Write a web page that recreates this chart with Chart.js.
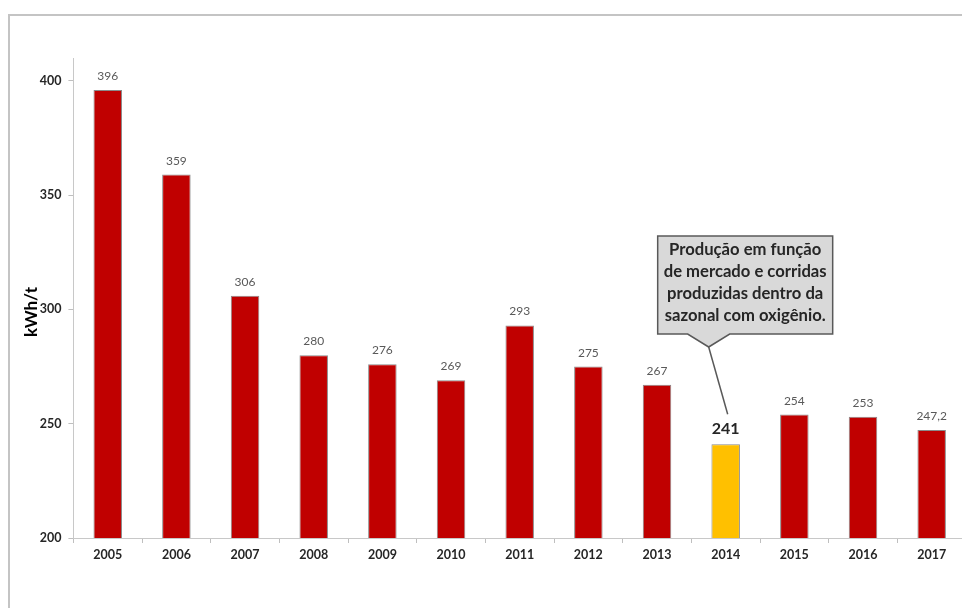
<!DOCTYPE html>
<html lang="pt">
<head>
<meta charset="UTF-8">
<title>Consumo específico de energia - kWh/t</title>
<script src="https://cdn.jsdelivr.net/npm/chart.js"></script>
<style>
  html, body { margin: 0; padding: 0; background: #fff; overflow: hidden; width: 962px; height: 608px; }
  /* moldura cinza (só topo e esquerda aparecem no recorte) */
  .moldura { position: absolute; left: 8px; top: 14px; width: 970px; height: 610px;
             border-top: 2px solid #c4c4c4; border-left: 2px solid #c4c4c4; }
  /* um pouco mais largo que a janela: o eixo x continua além da borda direita */
  .grafico { position: absolute; left: 0; top: 0; width: 966px; height: 608px; }
</style>
</head>
<body>
<div class="moldura"></div>
<div class="grafico"><canvas id="consumoChart"></canvas></div>

<script>
// dados
const anos = ['2005', '2006', '2007', '2008', '2009', '2010', '2011', '2012', '2013', '2014', '2015', '2016', '2017'];
const consumo = [396, 359, 306, 280, 276, 269, 293, 275, 267, 241, 254, 253, 247.2];
const yTicks = [200, 250, 300, 350, 400];
const anoDestaque = '2014';
const notaLinhas = ['Produção em função', 'de mercado e corridas', 'produzidas dentro da', 'sazonal com oxigênio.'];

const FONTE = 'Lato, "Open Sans", sans-serif';
const VERMELHO = '#c00000';
const AMARELO = '#ffc000';

function formata(v) {
    return String(v).replace('.', ',');
}

// rótulos de valor em cima das barras
const rotulosValores = {
    id: 'rotulosValores',
    afterDatasetsDraw(chart) {
        const ctx = chart.ctx;
        const meta = chart.getDatasetMeta(0);
        meta.data.forEach((bar, i) => {
            const destaque = anos[i] === anoDestaque;
            ctx.save();
            ctx.font = destaque ? `bold 16px ${FONTE}` : `12px ${FONTE}`;
            ctx.fillStyle = destaque ? '#262626' : '#595959';
            ctx.textAlign = 'center';
            ctx.textBaseline = 'alphabetic';
            ctx.fillText(formata(consumo[i]), bar.x, bar.y - 10);
            ctx.restore();
        });
    }
};

// título do eixo y
const tituloEixoY = {
    id: 'tituloEixoY',
    afterDraw(chart) {
        const ctx = chart.ctx;
        ctx.save();
        ctx.translate(32, 312);
        ctx.rotate(-Math.PI / 2);
        ctx.font = `bold 17px ${FONTE}`;
        ctx.fillStyle = '#000';
        ctx.textAlign = 'center';
        ctx.textBaseline = 'middle';
        ctx.fillText('kWh/t', 0, 0);
        ctx.restore();
    }
};

// balão explicativo apontando para 2014
const balao = {
    id: 'balao',
    afterDraw(chart) {
        const ctx = chart.ctx;
        const idx = anos.indexOf(anoDestaque);
        const bx = chart.scales.x.getPixelForValue(idx);
        const by = chart.scales.y.getPixelForValue(consumo[idx]);

        const esq = bx - 68, dir = bx + 107, topo = 236, base = 334;
        const ponta = { x: bx - 17, y: 347 };

        ctx.save();
        ctx.beginPath();
        ctx.moveTo(esq, topo);
        ctx.lineTo(dir, topo);
        ctx.lineTo(dir, base);
        ctx.lineTo(bx + 4, base);
        ctx.lineTo(ponta.x, ponta.y);
        ctx.lineTo(bx - 38, base);
        ctx.lineTo(esq, base);
        ctx.closePath();
        ctx.fillStyle = '#d9d9d9';
        ctx.fill();
        ctx.lineWidth = 1.5;
        ctx.strokeStyle = '#595959';
        ctx.stroke();

        // linha até o rótulo
        ctx.beginPath();
        ctx.moveTo(ponta.x, ponta.y);
        ctx.lineTo(bx + 2, by - 30);
        ctx.stroke();

        // texto ajustado à largura da linha mais comprida
        ctx.font = `bold 100px ${FONTE}`;
        const maior = Math.max(...notaLinhas.map(l => ctx.measureText(l).width));
        const tam = 100 * 163 / maior;
        ctx.font = `bold ${tam.toFixed(2)}px ${FONTE}`;
        ctx.fillStyle = '#262626';
        ctx.textAlign = 'center';
        ctx.textBaseline = 'middle';
        const cx = (esq + dir) / 2;
        notaLinhas.forEach((linha, i) => {
            ctx.fillText(linha, cx, 250 + i * 22);
        });
        ctx.restore();
    }
};

const ctx = document.getElementById('consumoChart').getContext('2d');
new Chart(ctx, {
    type: 'bar',
    data: {
        labels: anos,
        datasets: [{
            data: consumo,
            backgroundColor: anos.map(a => a === anoDestaque ? AMARELO : VERMELHO),
            borderColor: '#8a8a8a',
            borderWidth: 1,
            categoryPercentage: 1,
            barPercentage: 0.415
        }]
    },
    options: {
        responsive: true,
        maintainAspectRatio: false,
        animation: false,
        layout: { padding: { top: 58, left: 0, right: 0, bottom: 0 } },
        plugins: {
            legend: { display: false },
            tooltip: { enabled: false }
        },
        scales: {
            x: {
                grid: { drawOnChartArea: false, tickLength: 5, tickColor: '#bfbfbf', offset: true },
                border: { color: '#c8c8c8', width: 1 },
                ticks: {
                    color: '#262626',
                    font: { family: FONTE, size: 12.5, weight: 'bold' },
                    padding: 4,
                    maxRotation: 0,
                    autoSkip: false
                },
                afterFit: s => { s.height = 70; }
            },
            y: {
                min: 200,
                max: 410,
                afterBuildTicks: s => { s.ticks = yTicks.map(v => ({ value: v })); },
                grid: { drawOnChartArea: false, tickLength: 5, tickColor: '#bfbfbf' },
                border: { color: '#c8c8c8', width: 1 },
                ticks: {
                    color: '#262626',
                    font: { family: FONTE, size: 12.5, weight: 'bold' },
                    padding: 7
                },
                afterFit: s => { s.width = 73.4; }
            }
        }
    },
    plugins: [rotulosValores, tituloEixoY, balao]
});
</script>
</body>
</html>
